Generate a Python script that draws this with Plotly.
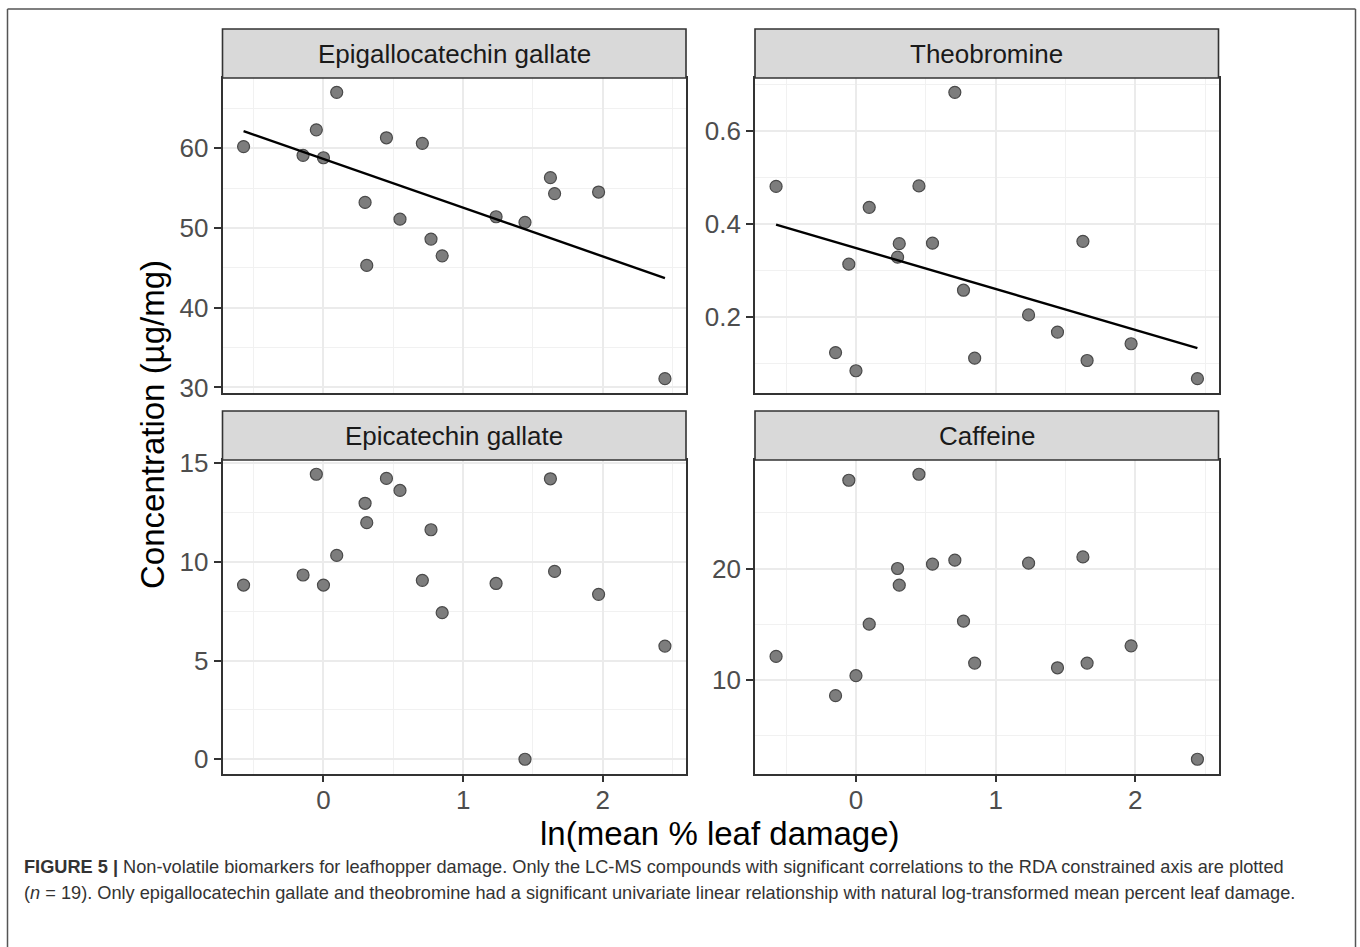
import numpy as np
import plotly.graph_objects as go

# ---------------- data ----------------
damage = [-0.572, -0.146, -0.051, 0.0, 0.095, 0.298, 0.310, 0.451, 0.548, 0.708,
          0.770, 0.850, 1.236, 1.443, 1.625, 1.655, 1.970, 2.445]
egcg = [60.2, 59.1, 62.3, 58.8, 67.0, 53.2, 45.3, 61.3, 51.1, 60.6,
        48.6, 46.5, 51.4, 50.7, 56.3, 54.3, 54.5, 31.1]
theobromine = [0.481, 0.124, 0.314, 0.085, 0.436, 0.329, 0.358, 0.482, 0.359, 0.683,
               0.258, 0.112, 0.205, 0.168, 0.363, 0.107, 0.143, 0.068]
ecg = [8.82, 9.33, 14.43, 8.82, 10.32, 12.96, 11.98, 14.22, 13.61, 9.06,
       11.62, 7.42, 8.90, 0.0, 14.20, 9.51, 8.35, 5.73]
caffeine = [12.12, 8.6, 27.91, 10.39, 15.01, 20.0, 18.51, 28.45, 20.39, 20.75,
            15.28, 11.52, 20.48, 11.1, 21.04, 11.52, 13.07, 2.9]

panel_titles = ["Epigallocatechin gallate", "Theobromine", "Epicatechin gallate", "Caffeine"]
panel_values = [egcg, theobromine, ecg, caffeine]
panel_fit = [True, True, False, False]

x_ticks = [0, 1, 2]
x_ticktext = ["0", "1", "2"]
x_minor = [-0.5, 0.5, 1.5, 2.5]
y_ticks = [[30, 40, 50, 60], [0.2, 0.4, 0.6], [0, 5, 10, 15], [10, 20]]
y_ticktext = [["30", "40", "50", "60"], ["0.2", "0.4", "0.6"], ["0", "5", "10", "15"], ["10", "20"]]
y_minor = [[35, 45, 55, 65], [0.1, 0.3, 0.5, 0.7], [2.5, 7.5, 12.5], [5, 15, 25]]

x_title = "ln(mean % leaf damage)"
y_title = "Concentration (µg/mg)"
caption1 = "<b>FIGURE 5 |</b> Non-volatile biomarkers for leafhopper damage. Only the LC-MS compounds with significant correlations to the RDA constrained axis are plotted"
caption2 = "(<i>n</i> = 19). Only epigallocatechin gallate and theobromine had a significant univariate linear relationship with natural log-transformed mean percent leaf damage."

# ---------------- layout geometry ----------------
W, H = 1360, 947
FONT = "Liberation Sans, Arial, sans-serif"


def px_x(p):
    return p / W


def px_y(p):
    return 1 - p / H


col_x = [(222.5, 686.0), (755.0, 1218.5)]
row_plot = [(78.0, 393.0), (460.0, 773.5)]
row_strip = [(29.0, 78.0), (411.0, 460.0)]


def expand(vals, f=0.05):
    lo, hi = min(vals), max(vals)
    d = (hi - lo) * f
    return [lo - d, hi + d]


xr = expand(damage)

fig = go.Figure()
shapes = []
annotations = []

for i in range(4):
    r, c = divmod(i, 2)
    ax = "" if i == 0 else str(i + 1)
    xa, ya = "x" + ax, "y" + ax
    vals = panel_values[i]

    fig.add_trace(go.Scatter(
        x=damage, y=vals, mode="markers", xaxis=xa, yaxis=ya,
        marker=dict(size=12, color="#7d7d7d", line=dict(color="#4a4a4a", width=1.2)),
        showlegend=False, hoverinfo="skip"))

    if panel_fit[i]:
        b, a = np.polyfit(damage, vals, 1)
        xs = [min(damage), max(damage)]
        fig.add_trace(go.Scatter(
            x=xs, y=[a + b * v for v in xs], mode="lines", xaxis=xa, yaxis=ya,
            line=dict(color="black", width=2.4), showlegend=False, hoverinfo="skip"))

    x0, x1 = col_x[c]
    py0, py1 = row_plot[r]
    common = dict(showline=True, mirror=True, linecolor="#333333", linewidth=1.6,
                  showgrid=True, gridcolor="#EBEBEB", gridwidth=1.8, zeroline=False,
                  automargin=False,
                  tickfont=dict(family=FONT, size=26, color="#4D4D4D"),
                  ticklen=7, tickwidth=2, tickcolor="#333333")
    xaxis = dict(common, domain=[px_x(x0), px_x(x1)], range=xr, anchor=ya,
                 tickmode="array", tickvals=x_ticks, ticktext=x_ticktext,
                 minor=dict(tickmode="array", tickvals=x_minor, showgrid=True,
                            gridcolor="#F1F1F1", gridwidth=1, ticks=""))
    if r == 0:
        xaxis.update(showticklabels=False, ticks="")
    else:
        xaxis.update(ticks="outside")
    yaxis = dict(common, domain=[px_y(py1), px_y(py0)], range=expand(vals), anchor=xa,
                 tickmode="array", tickvals=y_ticks[i], ticktext=y_ticktext[i],
                 ticks="outside",
                 minor=dict(tickmode="array", tickvals=y_minor[i], showgrid=True,
                            gridcolor="#F1F1F1", gridwidth=1, ticks=""))
    fig.update_layout({"xaxis" + ax: xaxis, "yaxis" + ax: yaxis})

    # strip
    sy0, sy1 = row_strip[r]
    shapes.append(dict(type="rect", xref="paper", yref="paper",
                       x0=px_x(x0), x1=px_x(x1), y0=px_y(sy1), y1=px_y(sy0),
                       fillcolor="#D9D9D9", line=dict(color="#333333", width=1.6), layer="above"))
    annotations.append(dict(text=panel_titles[i], xref="paper", yref="paper",
                            x=px_x((x0 + x1) / 2), y=px_y((sy0 + sy1) / 2),
                            xanchor="center", yanchor="middle", showarrow=False,
                            font=dict(family=FONT, size=26, color="#1A1A1A")))

# pull the bottom tick labels slightly closer to the axis
try:
    fig.update_xaxes(ticklabelstandoff=-5)
except Exception:
    pass

# axis titles
annotations.append(dict(text=x_title, xref="paper", yref="paper",
                        x=px_x(720), y=px_y(833), xanchor="center", yanchor="middle",
                        showarrow=False, font=dict(family=FONT, size=33, color="black")))
annotations.append(dict(text=y_title, xref="paper", yref="paper",
                        x=px_x(152), y=px_y(425), xanchor="center", yanchor="middle",
                        textangle=-90, showarrow=False,
                        font=dict(family=FONT, size=33, color="black")))
# caption
annotations.append(dict(text=caption1, xref="paper", yref="paper",
                        x=px_x(22), y=px_y(867), xanchor="left", yanchor="middle",
                        showarrow=False, font=dict(family=FONT, size=18.2, color="#333333")))
annotations.append(dict(text=caption2, xref="paper", yref="paper",
                        x=px_x(22), y=px_y(893), xanchor="left", yanchor="middle",
                        showarrow=False, font=dict(family=FONT, size=18.2, color="#333333")))

# outer frame
frame = dict(color="#555555", width=1.5)
shapes.append(dict(type="line", xref="paper", yref="paper", x0=px_x(7.5), x1=px_x(1355.5),
                   y0=px_y(9), y1=px_y(9), line=frame))
shapes.append(dict(type="line", xref="paper", yref="paper", x0=px_x(7.5), x1=px_x(7.5),
                   y0=px_y(9), y1=px_y(947), line=frame))
shapes.append(dict(type="line", xref="paper", yref="paper", x0=px_x(1355.5), x1=px_x(1355.5),
                   y0=px_y(9), y1=px_y(947), line=frame))

fig.update_layout(width=W, height=H, autosize=False,
                  margin=dict(l=0, r=0, t=0, b=0, pad=0, autoexpand=False),
                  paper_bgcolor="white", plot_bgcolor="white",
                  shapes=shapes, annotations=annotations,
                  font=dict(family=FONT))

fig.write_html("out.html",
               post_script="document.body.style.margin='0';document.body.style.overflow='hidden';")
